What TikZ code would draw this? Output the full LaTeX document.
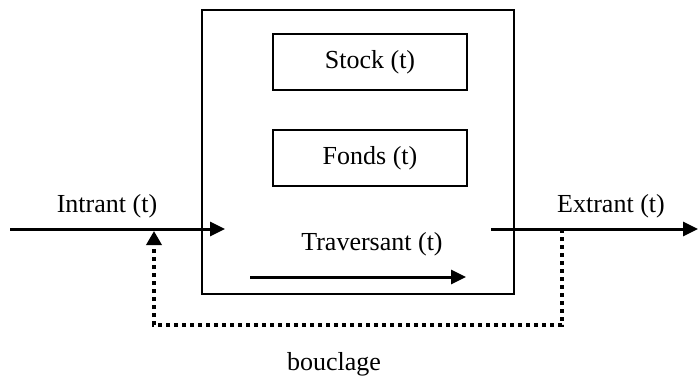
\documentclass[tikz,border=0pt]{standalone}
\usepackage{fontspec}
\setmainfont{Liberation Serif}
\usetikzlibrary{arrows.meta,positioning}
\tikzset{flux/.style={line width=1.5pt,-{Triangle[length=7.5pt,width=7pt]}}}
\tikzset{boucle/.style={line width=1.7pt,dash pattern=on 2pt off 2pt,-{Triangle[length=7pt,width=7.5pt]}}}
\tikzset{bloc/.style={draw,line width=1.3pt,minimum width=97pt,minimum height=28pt,inner sep=0pt}}
\tikzset{lbl/.style={font=\fontsize{13}{15}\selectfont,inner sep=0pt}}

\begin{document}
\begin{tikzpicture}[x=0.5pt,y=-0.5pt]
\useasboundingbox (0,0) rectangle (698,376);

% le systeme et ses compartiments
\node[draw,line width=0.7pt,minimum width=156pt,minimum height=142pt,inner sep=0pt] (sys) at (358,152) {};
\node[bloc,lbl] (stock) at (370,62) {Stock (t)};
\node[bloc,lbl] (fonds) at (370,158) {Fonds (t)};
\node[lbl,anchor=base] (trav) at (372,250) {Traversant (t)};

\coordinate (td) at (250,277);
\coordinate (tf) at (466,277);
\draw[flux] (td) -- (tf);

% entree et sortie
\node[lbl,anchor=base] (intrant) at (107,212) {Intrant (t)};
\node[lbl,anchor=base] (extrant) at (611,212) {Extrant (t)};

\coordinate (src) at (10,229);
\coordinate (entree) at (225,229);
\coordinate (sortie) at (491,229);
\coordinate (puits) at (698,229);
\draw[flux] (src) -- (entree);
\draw[flux] (sortie) -- (puits);

% retour
\coordinate (dep) at (562,229);
\coordinate (ret) at (154,231);
\draw[boucle] (dep) -- (562,325) -| (ret);
\node[lbl,anchor=base] (boucl) at (334,370) {bouclage};

\end{tikzpicture}
\end{document}
